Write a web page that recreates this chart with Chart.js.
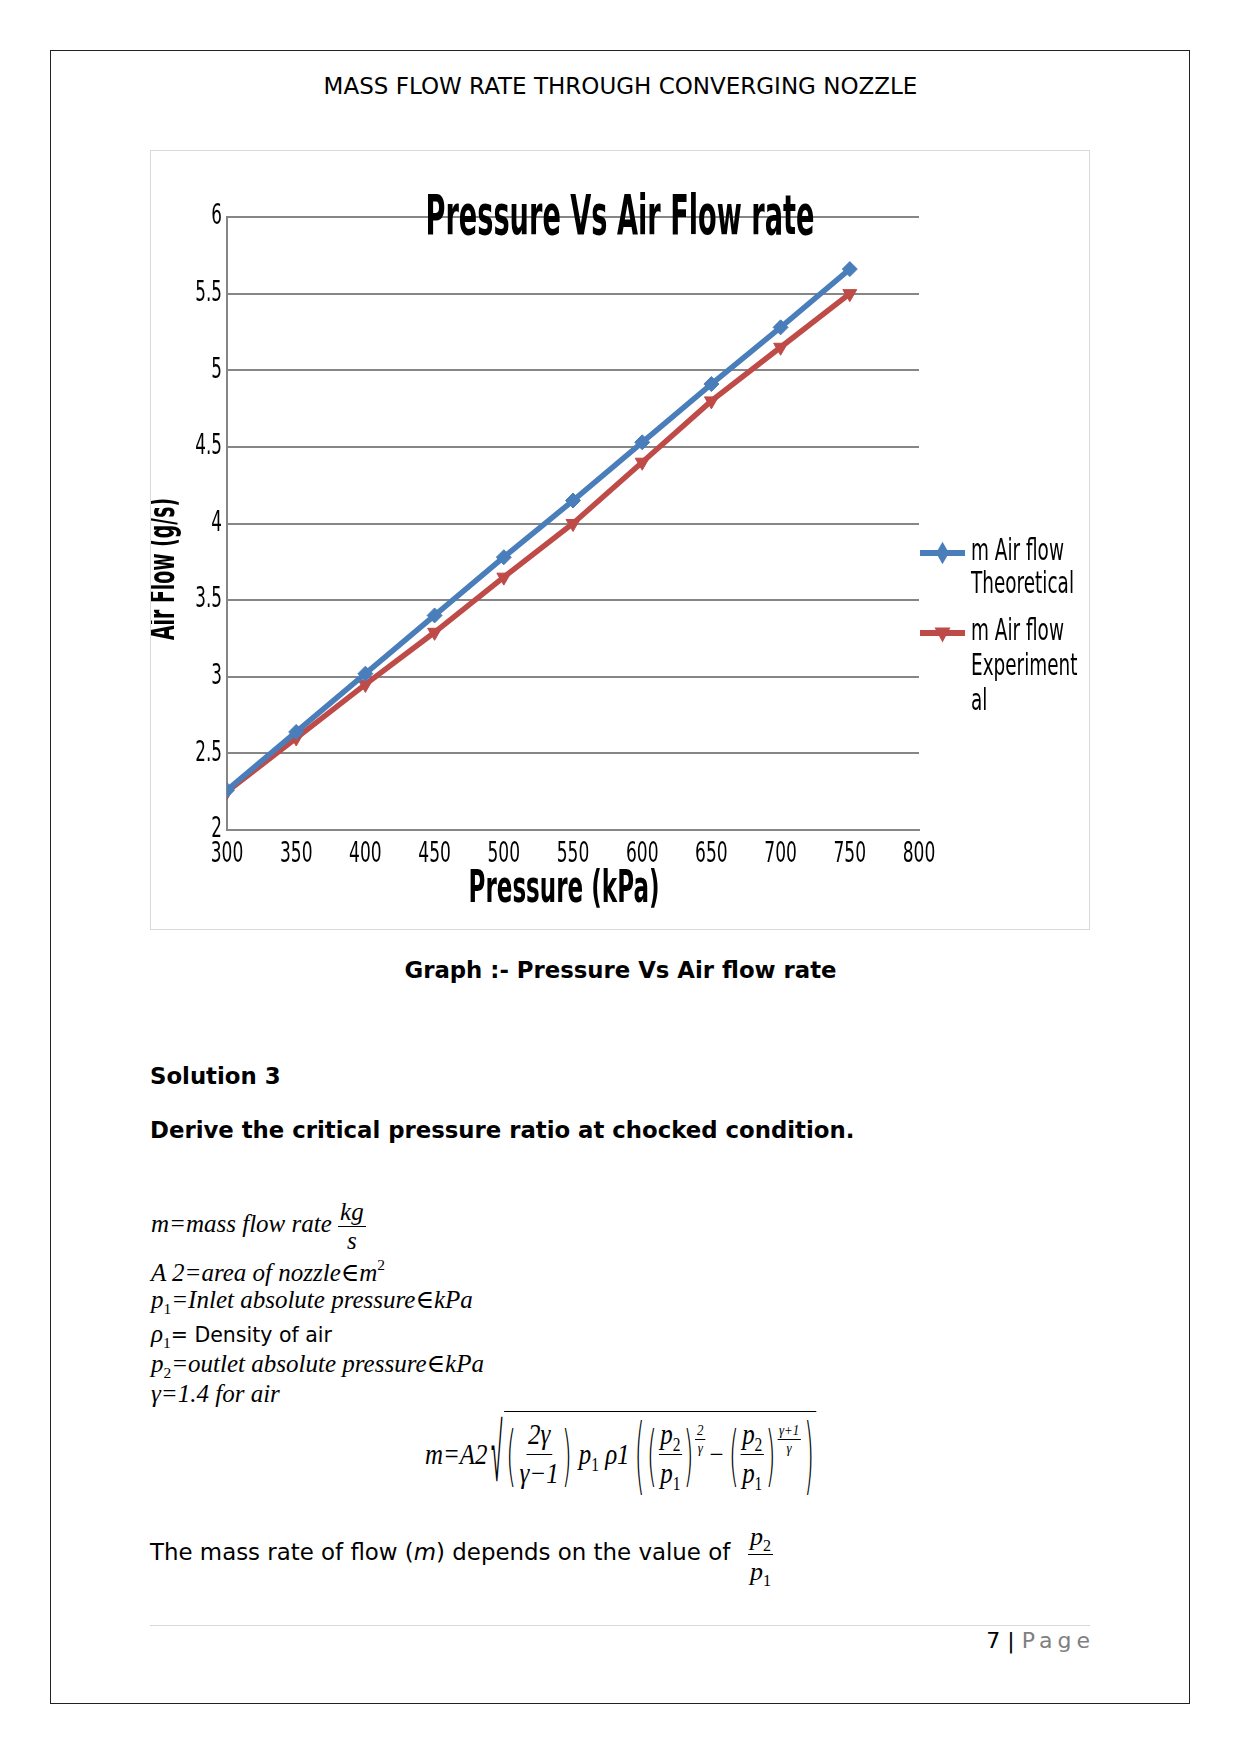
<!DOCTYPE html>
<html><head><meta charset="utf-8">
<script src="https://cdn.jsdelivr.net/npm/chart.js@4.4.0/dist/chart.umd.min.js"></script>
<style>
html,body{margin:0;padding:0;background:#fff;}
body{width:1241px;height:1754px;position:relative;font-family:'DejaVu Sans',sans-serif;color:#000;overflow:hidden;}
.abs{position:absolute;white-space:nowrap;}
#frame{position:absolute;left:50px;top:50px;width:1140px;height:1654px;border:1px solid #222;box-sizing:border-box;}
#chartbox{position:absolute;left:150px;top:150px;width:940px;height:780px;border:1px solid #d9d9d9;box-sizing:border-box;background:#fff;}
#chartbox canvas{display:block;}
.math{font-family:'Liberation Serif','DejaVu Serif',serif;font-style:italic;}
.frac{display:inline-flex;flex-direction:column;align-items:center;vertical-align:middle;line-height:1.1;}
.frac .num{border-bottom:1px solid #000;padding:0 2px;}
.frac .den{padding:0 2px;}
.big .frac{line-height:1.3;}
sub,sup{font-style:normal;font-size:62%;line-height:0;}
.bold{font-weight:bold;}
.flex{display:flex;align-items:center;}
.par{display:inline-block;font-style:normal;font-family:'DejaVu Sans',sans-serif;font-weight:200;}
</style>
</head>
<body>
<div id="frame"></div>
<div class="abs" style="left:0;width:1241px;text-align:center;top:72px;font-size:23px;line-height:28px;">MASS FLOW RATE THROUGH CONVERGING NOZZLE</div>

<div id="chartbox"><canvas id="c" width="938" height="778" style="width:938px;height:778px"></canvas></div>

<div class="abs bold" style="left:0;width:1241px;text-align:center;top:956px;font-size:22.8px;line-height:28px;">Graph :- Pressure Vs Air flow rate</div>
<div class="abs bold" style="left:150px;top:1062px;font-size:22.8px;line-height:28px;">Solution 3</div>
<div class="abs bold" style="left:150px;top:1116px;font-size:22.8px;line-height:28px;">Derive the critical pressure ratio at chocked condition.</div>

<div class="abs math" style="left:151px;top:1198px;font-size:25px;line-height:30px;">m=mass flow rate <span class="frac"><span class="num">kg</span><span class="den">s</span></span></div>
<div class="abs math" style="left:151px;top:1258px;font-size:25px;line-height:30px;">A 2=area of nozzle∈m<sup style="vertical-align:0.7em">2</sup></div>
<div class="abs math" style="left:151px;top:1285px;font-size:25px;line-height:30px;">p<sub>1</sub>=Inlet absolute pressure∈kPa</div>
<div class="abs" style="left:151px;top:1319px;font-size:20.5px;line-height:30px;"><span class="math" style="font-size:25px">ρ<sub>1</sub></span>= Density of air</div>
<div class="abs math" style="left:151px;top:1349px;font-size:25px;line-height:30px;">p<sub>2</sub>=outlet absolute pressure∈kPa</div>
<div class="abs math" style="left:151px;top:1379px;font-size:25px;line-height:30px;">γ=1.4 for air</div>

<div class="abs math flex big" style="left:425px;top:1411px;height:86px;font-size:29px;transform:scaleX(0.86);transform-origin:0 0;">
  <span>m=A2</span>
  <span class="par" style="transform:scale(0.9,3.0);margin:0 1px 0 3px;font-size:27px;">√</span>
  <span class="flex" style="border-top:1.5px solid #000;align-self:stretch;padding:0 1px;">
    <span class="par" style="transform:scaleY(2.3);margin:0 2px;">(</span>
    <span class="frac"><span class="num">2γ</span><span class="den">γ−1</span></span>
    <span class="par" style="transform:scaleY(2.3);margin:0 8px 0 2px;">)</span>
    <span>p<sub>1</sub> ρ1</span>
    <span class="par" style="transform:scaleY(2.9);margin:0 1px 0 6px;">(</span>
    <span class="par" style="transform:scaleY(2.3);margin:0 2px;">(</span>
    <span class="frac"><span class="num">p<sub>2</sub></span><span class="den">p<sub>1</sub></span></span>
    <span class="par" style="transform:scaleY(2.3);margin:0 2px;">)</span>
    <span class="frac" style="font-size:15px;align-self:flex-start;margin-top:10px;line-height:1.1;"><span class="num">2</span><span class="den">γ</span></span>
    <span style="margin:0 3px;">−</span>
    <span class="par" style="transform:scaleY(2.3);margin:0 2px;">(</span>
    <span class="frac"><span class="num">p<sub>2</sub></span><span class="den">p<sub>1</sub></span></span>
    <span class="par" style="transform:scaleY(2.3);margin:0 2px;">)</span>
    <span class="frac" style="font-size:15px;align-self:flex-start;margin-top:10px;line-height:1.1;"><span class="num">γ+1</span><span class="den">γ</span></span>
    <span class="par" style="transform:scaleY(2.9);margin:0 2px 0 4px;">)</span>
  </span>
</div>

<div class="abs" style="left:150px;top:1538px;font-size:22.9px;line-height:28px;">The mass rate of flow (<span style="font-style:oblique">m</span>) depends on the value of</div>
<div class="abs math" style="left:748px;top:1520px;font-size:26px;"><span class="frac" style="line-height:1.3"><span class="num">p<sub>2</sub></span><span class="den">p<sub>1</sub></span></span></div>

<div class="abs" style="left:150px;top:1625px;width:940px;height:1px;background:#d9d9d9;"></div>
<div class="abs" style="right:146px;top:1627px;font-size:22px;line-height:28px;">7 | <span style="color:#7f7f7f;letter-spacing:5px;">Page</span></div>

<script>
const pressure = [300, 350, 400, 450, 500, 550, 600, 650, 700, 750];
const theoretical = [2.26, 2.64, 3.02, 3.40, 3.78, 4.15, 4.53, 4.91, 5.28, 5.66];
const experimental = [2.25, 2.60, 2.95, 3.29, 3.65, 4.00, 4.40, 4.80, 5.15, 5.50];
const xTickValues = [300, 350, 400, 450, 500, 550, 600, 650, 700, 750, 800];
const xTickLabels = ['300', '350', '400', '450', '500', '550', '600', '650', '700', '750', '800'];
const yTickValues = [2, 2.5, 3, 3.5, 4, 4.5, 5, 5.5, 6];
const yTickLabels = ['2', '2.5', '3', '3.5', '4', '4.5', '5', '5.5', '6'];
const seriesNames = ['m Air flow Theoretical', 'm Air flow Experimental'];
const legendLines = [['m Air flow', 'Theoretical'], ['m Air flow', 'Experiment', 'al']];
const chartTitle = 'Pressure Vs Air Flow rate';
const xTitle = 'Pressure (kPa)';
const yTitle = 'Air Flow (g/s)';

const BLUE = '#4A7EBB';
const RED = '#BE4B48';
const GRID = '#868686';
const FN = '"DejaVu Sans", sans-serif';

function fitText(ctx, text, x, y, font, width, align) {
  ctx.save();
  ctx.font = font;
  const w = ctx.measureText(text).width;
  ctx.translate(x, y);
  ctx.scale(width / w, 1);
  ctx.textAlign = align;
  ctx.textBaseline = 'middle';
  ctx.fillStyle = '#000';
  ctx.fillText(text, 0, 0);
  ctx.restore();
}
function scaledText(ctx, text, x, y, font, sx, align) {
  ctx.save();
  ctx.font = font;
  ctx.translate(x, y);
  ctx.scale(sx, 1);
  ctx.textAlign = align;
  ctx.textBaseline = 'middle';
  ctx.fillStyle = '#000';
  ctx.fillText(text, 0, 0);
  ctx.restore();
}

function marker(ctx, style, x, y, r, color) {
  ctx.save();
  ctx.fillStyle = color;
  ctx.beginPath();
  if (style === 'rectRot') {
    ctx.moveTo(x, y - r * 1.4); ctx.lineTo(x + r * 0.8, y); ctx.lineTo(x, y + r * 1.4); ctx.lineTo(x - r * 0.8, y);
  } else {
    ctx.moveTo(x - r, y - r * 0.7); ctx.lineTo(x + r, y - r * 0.7); ctx.lineTo(x, y + r * 1.2);
  }
  ctx.closePath();
  ctx.fill();
  ctx.restore();
}

const decor = {
  id: 'decor',
  afterDraw(chart) {
    const ctx = chart.ctx;
    const a = chart.chartArea;
    const xs = chart.scales.x, ys = chart.scales.y;
    // tick labels placed by the library's scales
    xTickValues.forEach((v, i) => scaledText(ctx, xTickLabels[i], xs.getPixelForValue(v), a.bottom + 25, '28px ' + FN, 0.61, 'center'));
    yTickValues.forEach((v, i) => scaledText(ctx, yTickLabels[i], a.left - 5, ys.getPixelForValue(v), '28px ' + FN, 0.6, 'right'));
    // chart title, overlapping top gridline, centred in the chart box
    fitText(ctx, chartTitle, chart.width / 2, a.top + 2, 'bold 56px ' + FN, 389, 'center');
    // x title
    fitText(ctx, xTitle, (a.left + a.right) / 2 - 9, a.bottom + 61, 'bold 44px ' + FN, 191, 'center');
    // y title (rotated)
    ctx.save();
    ctx.translate(14, a.top + 352);
    ctx.rotate(-Math.PI / 2);
    fitText(ctx, yTitle, 0, 0, 'bold 35px ' + FN, 142, 'center');
    ctx.restore();
    // legend
    const lx0 = a.right + 1, lx1 = a.right + 46, tx = a.right + 52;
    const rows = [[a.top + 336, [a.top + 335, a.top + 368]], [a.top + 416, [a.top + 415, a.top + 450, a.top + 485]]];
    ctx.save();
    ctx.font = '31px ' + FN;
    const sc = 103 / ctx.measureText('Theoretical').width;
    ctx.restore();
    chart.data.datasets.forEach((ds, i) => {
      const ly = rows[i][0];
      ctx.save();
      ctx.strokeStyle = ds.borderColor;
      ctx.lineWidth = 6;
      ctx.beginPath(); ctx.moveTo(lx0, ly); ctx.lineTo(lx1, ly); ctx.stroke();
      ctx.restore();
      marker(ctx, ds.pointStyle === 'rectRot' ? 'rectRot' : 'tri', (lx0 + lx1) / 2, ly, 8, ds.borderColor);
      legendLines[i].forEach((t, j) => scaledText(ctx, t, tx, rows[i][1][j], '31px ' + FN, sc, 'left'));
    });
  }
};

new Chart(document.getElementById('c'), {
  type: 'line',
  data: {
    datasets: [
      {
        label: seriesNames[0],
        data: pressure.map((p, i) => ({x: p, y: theoretical[i]})),
        borderColor: BLUE, backgroundColor: BLUE,
        borderWidth: 5.5, pointStyle: 'rectRot', pointRadius: 7.5,
        pointBackgroundColor: BLUE, pointBorderColor: BLUE, pointBorderWidth: 1,
        tension: 0, order: 1
      },
      {
        label: seriesNames[1],
        data: pressure.map((p, i) => ({x: p, y: experimental[i]})),
        borderColor: RED, backgroundColor: RED,
        borderWidth: 5.5, pointStyle: 'triangle', pointRotation: 180, pointRadius: 8,
        pointBackgroundColor: RED, pointBorderColor: RED, pointBorderWidth: 1,
        tension: 0, order: 2
      }
    ]
  },
  options: {
    responsive: false,
    animation: false,
    devicePixelRatio: 1,
    layout: {padding: {top: 66, right: 170, left: 0, bottom: 0}},
    plugins: {legend: {display: false}, title: {display: false}, tooltip: {enabled: false}},
    scales: {
      x: {
        type: 'linear', min: 300, max: 800,
        ticks: {stepSize: 50, display: false},
        grid: {display: false, drawTicks: false},
        border: {display: true, color: GRID, width: 2},
        afterFit(s) { s.height = 99; }
      },
      y: {
        type: 'linear', min: 2, max: 6,
        ticks: {stepSize: 0.5, display: false},
        grid: {color: GRID, lineWidth: 2, drawTicks: false},
        border: {display: true, color: GRID, width: 2},
        afterFit(s) { s.width = 76; }
      }
    }
  },
  plugins: [decor]
});
</script>
</body></html>
